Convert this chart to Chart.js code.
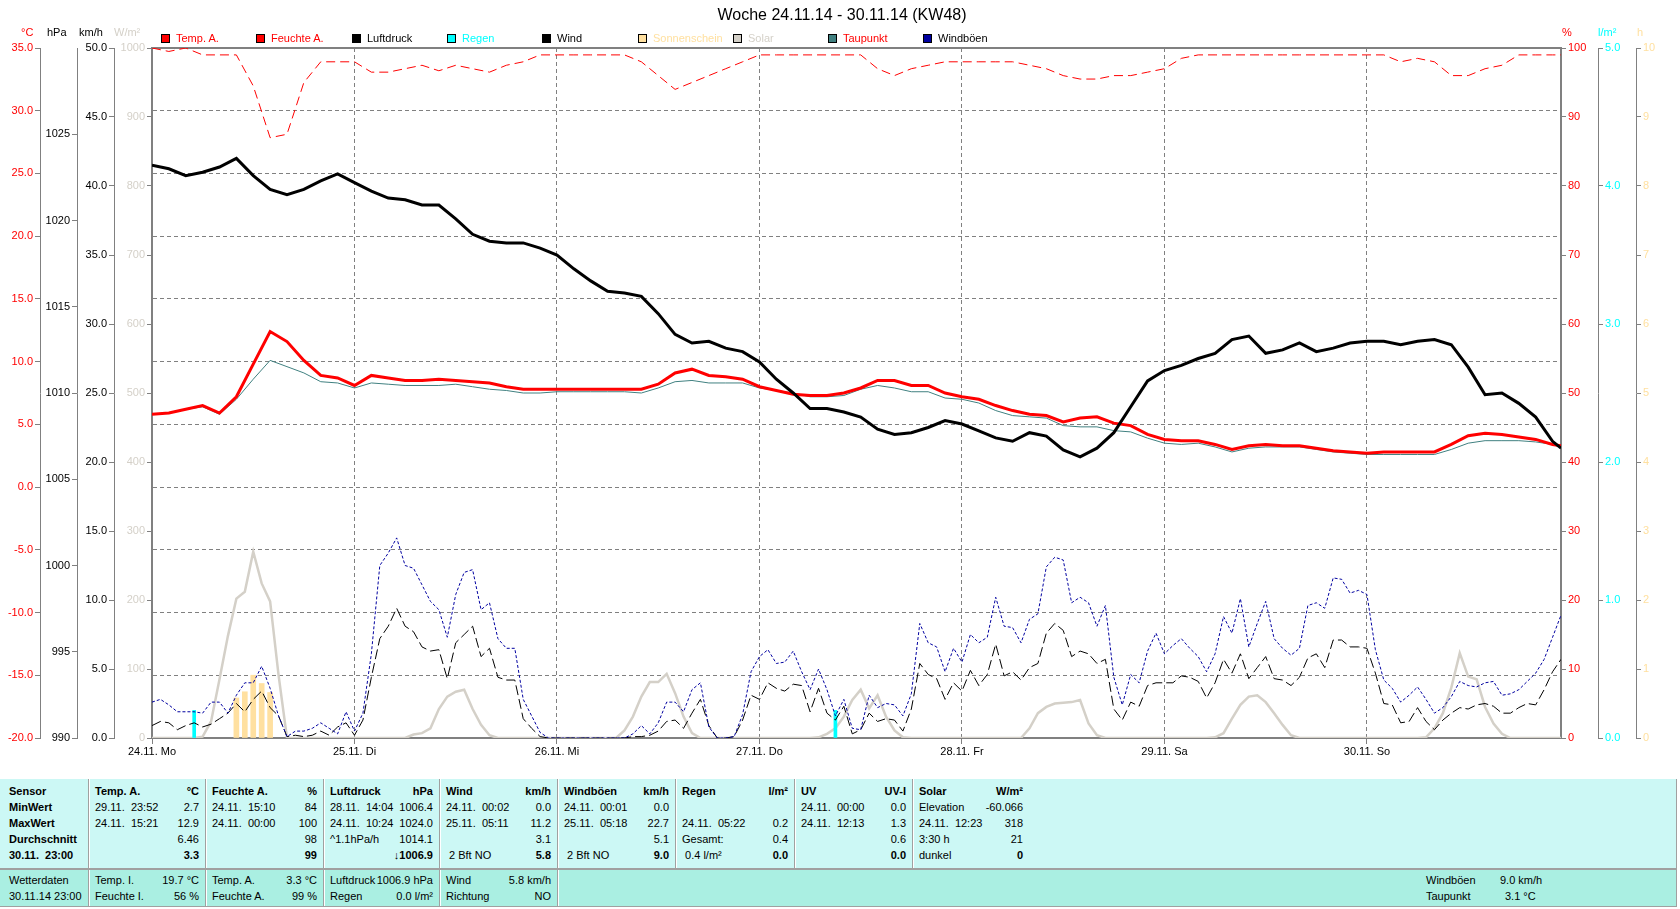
<!DOCTYPE html>
<html>
<head>
<meta charset="utf-8">
<script src="https://cdn.jsdelivr.net/npm/chart.js@4.4.1/dist/chart.umd.min.js"></script>
<style>
  body { margin: 0; background: #fff; font-family: "Liberation Sans", Arial, sans-serif; font-size: 11px; }
  #page { position: relative; width: 1680px; height: 909px; overflow: hidden; }
  #chart { position: absolute; left: 0; top: 0; }
  .abs { position: absolute; white-space: pre; }
  .lg { position: absolute; top: 32px; height: 12px; line-height: 12px; white-space: pre; }
  .lg .box { display: inline-block; width: 7px; height: 7px; border: 1px solid #000; margin-right: 6px; vertical-align: -1px; }
  .block { position: absolute; left: 0; width: 1676px; border-right: 1px solid #a0a0a0; }
  #upper { top: 779px; height: 89px; background: #ccf8f5; }
  #lower { top: 868px; height: 36px; background: #aaefe2; border-top: 2px solid #a0a0a0; border-bottom: 1px solid #a0a0a0; }
  .col { position: absolute; top: 0; bottom: 0; }
  .row { position: absolute; left: 6px; right: 7px; height: 16px; line-height: 16px; display: flex; justify-content: space-between; white-space: pre; }
  .sep { position: absolute; top: 0; bottom: 0; width: 1px; background: #a0a0a0; box-shadow: 1px 0 0 #fff; }
  .b { font-weight: bold; }
</style>
</head>
<body>
<div id="page">
  <canvas id="chart" width="1680" height="770"></canvas>
  <div class="abs" style="left:0;width:1684px;top:6px;text-align:center;font-size:16px;">Woche 24.11.14 - 30.11.14 (KW48)</div>
  <div id="legend"></div>
  <div id="units"></div>
  <div id="upper" class="block"></div>
  <div id="lower" class="block"></div>
</div>
<script>
// x positions: hours since 24.11. 00:00
const dayLabels = ['24.11. Mo', '25.11. Di', '26.11. Mi', '27.11. Do', '28.11. Fr', '29.11. Sa', '30.11. So'];
const dayTicks = [0, 24, 48, 72, 96, 120, 144];

// two-hourly readings (0,2,...,166 and 167)
const hours2 = [];
for (let h = 0; h <= 166; h += 2) hours2.push(h);
hours2.push(167);
// hourly readings 0..167
const hours1 = [];
for (let h = 0; h <= 167; h++) hours1.push(h);

const tempA = [5.8,5.9,6.2,6.5,5.9,7.2,9.8,12.4,11.6,10.1,8.9,8.7,
  8.1,8.9,8.7,8.5,8.5,8.6,8.5,8.4,8.3,8.0,7.8,7.8,
  7.8,7.8,7.8,7.8,7.8,7.8,8.2,9.1,9.4,8.9,8.8,8.6,
  8.0,7.7,7.4,7.3,7.3,7.5,7.9,8.5,8.5,8.1,8.1,7.5,
  7.2,7.0,6.5,6.1,5.8,5.7,5.2,5.5,5.6,5.1,4.9,4.2,
  3.8,3.7,3.7,3.4,3.0,3.3,3.4,3.3,3.3,3.1,2.9,2.8,
  2.7,2.8,2.8,2.8,2.8,3.4,4.1,4.3,4.2,4.0,3.8,3.4,3.3];

const dewPoint = [5.8,5.9,6.2,6.4,5.8,7.0,8.6,10.1,9.6,9.1,8.4,8.3,
  7.9,8.3,8.2,8.1,8.1,8.1,8.2,8.0,7.8,7.7,7.5,7.5,
  7.6,7.6,7.6,7.6,7.6,7.5,7.9,8.4,8.5,8.3,8.3,8.3,
  7.9,7.7,7.5,7.2,7.2,7.3,7.8,8.1,7.9,7.6,7.6,7.1,
  7.0,6.7,6.1,5.7,5.6,5.5,4.9,4.8,4.8,4.5,4.4,3.9,
  3.5,3.4,3.5,3.2,2.8,3.1,3.2,3.2,3.2,3.0,2.8,2.7,
  2.6,2.6,2.6,2.6,2.6,3.0,3.5,3.7,3.7,3.7,3.6,3.4,3.2];

const humidity = [100,99.5,100,99,99,99,94.5,87,87.5,95,98,98,
  98,96.5,96.5,97,97.5,96.7,97.5,97,96.5,97.5,98,99,
  99,99,99,99,99,98,96,94,95,96,97,98,
  99,99,99,99,99,99,99,97,96,97,97.5,98,
  98,98,98,98,97.5,97,96,95.5,95.5,96,96,96.5,
  97,98.5,99,99,99,99,99,99,99,99,99,99,
  99,99,98,98.5,98,96,96,97,97.5,99,99,99,99];

const pressure = [1023.2,1023.0,1022.6,1022.8,1023.1,1023.6,1022.6,1021.8,1021.5,1021.8,1022.3,1022.7,
  1022.2,1021.7,1021.3,1021.2,1020.9,1020.9,1020.1,1019.2,1018.8,1018.7,1018.7,1018.4,
  1018.0,1017.2,1016.5,1015.9,1015.8,1015.6,1014.6,1013.4,1012.9,1013.0,1012.6,1012.4,
  1011.8,1010.8,1010.0,1009.1,1009.1,1008.9,1008.6,1007.9,1007.6,1007.7,1008.0,1008.4,
  1008.2,1007.8,1007.4,1007.2,1007.7,1007.5,1006.7,1006.3,1006.8,1007.7,1009.2,1010.7,
  1011.3,1011.6,1012.0,1012.3,1013.1,1013.3,1012.3,1012.5,1012.9,1012.4,1012.6,1012.9,
  1013.0,1013.0,1012.8,1013.0,1013.1,1012.8,1011.5,1009.9,1010.0,1009.4,1008.6,1007.2,1006.8];

const wind = [0.9,1.2,1.1,0.6,0.9,1.1,0.8,1.0,1.4,1.8,2.5,1.9,
  2.8,3.4,2.2,1.6,0.1,0.2,0.1,0.2,0.5,0.2,0.8,1.1,
  0.2,1.3,4.4,7.2,8.1,9.4,8.1,7.7,6.6,6.3,6.4,4.3,
  6.9,7.5,8.1,5.9,6.5,4.4,4.2,4.2,1.4,0.7,0.1,0.0,
  0,0,0,0,0,0,0,0,0,0.1,0.1,0.2,
  0.5,1.2,1.3,0.7,1.8,2.8,0.9,0,0,0.1,1.3,3.1,
  2.8,4.0,3.6,3.4,3.9,3.8,1.9,3.6,1.8,1.3,2.3,0.3,
  0.6,1.8,1.2,1.4,1.3,0.5,2.1,5.4,4.6,4.3,2.8,4.0,
  3.4,4.9,3.8,4.6,6.8,4.5,4.8,4.2,5.1,5.4,7.6,8.3,
  7.8,5.9,6.3,6.1,5.4,5.7,2.1,1.3,2.6,2.3,3.8,4.0,
  4.0,4.0,4.5,4.4,4.1,2.9,4.0,5.7,4.7,6.1,4.3,5.1,
  5.9,4.3,4.2,3.8,4.4,5.8,6.1,5.1,7.1,7.1,6.6,6.6,
  6.5,4.7,2.5,2.4,1.1,1.2,2.2,1.2,0.6,1.3,1.8,2.2,
  2.1,2.4,2.5,2.3,1.8,1.8,2.2,2.5,2.4,3.5,4.8,5.7];

const gusts = [2.6,2.8,2.4,1.9,1.9,1.9,1.8,2.6,2.6,1.8,3.1,4.0,
  4.0,5.2,3.6,1.6,0.1,0.5,0.5,0.7,1.1,0.7,0.3,1.9,
  0.5,1.8,6.1,12.5,13.4,14.5,12.5,12.3,11.1,9.9,9.3,7.3,
  10.4,12.0,12.2,9.3,9.8,7.2,6.5,6.5,2.8,1.6,0.4,0.0,
  0,0,0,0,0,0,0,0,0,0.3,0.9,0.3,
  1.1,2.6,2.6,1.9,3.5,4.0,0.8,0,0,0.1,1.7,4.8,
  5.9,6.4,5.4,5.5,6.3,4.8,3.5,5.0,3.5,1.6,2.8,0.7,
  0.6,3.1,2.2,2.5,2.4,1.6,3.2,8.3,6.9,6.6,4.8,6.5,
  5.5,7.5,6.9,7.3,10.2,8.1,8.0,6.9,8.6,9.0,12.4,13.1,
  12.9,9.8,10.2,9.8,8.1,9.6,4.4,2.4,4.6,4.0,6.3,7.6,
  6.1,6.7,7.2,6.5,5.9,4.8,6.1,8.8,7.6,10.1,6.6,8.3,
  9.9,7.2,6.5,6.0,6.5,9.6,9.8,9.4,11.6,11.5,10.5,10.7,
  10.4,6.4,4.2,3.6,2.6,3.1,3.7,2.8,1.8,2.2,3.0,4.1,
  3.8,3.7,4.0,4.1,3.1,3.2,3.5,4.1,4.7,5.7,7.3,8.9];

const solar = [0,0,0,0,0,0,2,24,85,148,202,212,
  270,224,198,91,0,0,0,0,0,0,0,0,
  0,0,0,0,0,0,0,5,7,14,42,60,
  67,70,42,19,4,0,0,0,0,0,0,0,
  0,0,0,0,0,0,0,0,11,31,60,81,
  81,93,65,31,7,0,0,0,0,0,0,0,
  0,0,0,0,0,0,0,1,6,14,31,55,
  70,43,62,31,11,1,0,0,0,0,0,0,
  0,0,0,0,0,0,0,0,14,36,45,50,
  51,52,55,21,4,0,0,0,0,0,0,0,
  0,0,0,0,0,0,1,7,28,48,60,62,
  52,36,19,4,0,0,0,0,0,0,0,0,
  0,0,0,0,0,0,0,1,14,36,73,123,
  89,85,45,21,6,0,0,0,0,0,0,0];

const rainHours = [5, 81];
const rainValues = [0.2, 0.2];
const sunHours = [10, 11, 12, 13, 14];
const sunValues = [0.58, 0.67, 0.91, 0.79, 0.66];

const pts = (hs, vs) => vs.map((v, i) => ({ x: hs[i], y: v }));

const GREY = '#808080';
const SOLAR = '#d4d0c8';
const SUN = '#ffe0a0';

Chart.defaults.font.family = '"Liberation Sans", Arial, sans-serif';
Chart.defaults.font.size = 11;
Chart.defaults.color = '#000';

function sideAxis(position, weight, width, min, max, step, color, digits, more) {
  const ax = {
    type: 'linear', position, weight, min, max,
    afterFit: s => { s.width = width; },
    ticks: { stepSize: step, color, padding: 2, maxTicksLimit: 20, autoSkip: false,
             callback: v => v.toFixed(digits) },
    grid: { drawOnChartArea: false, tickLength: 5, tickColor: GREY, color: GREY },
    border: { color: GREY, width: 1 }
  };
  return Object.assign(ax, more || {});
}

const framePlugin = {
  id: 'frame',
  beforeDatasetsDraw(chart) {
    const { ctx, chartArea: a } = chart;
    ctx.save();
    ctx.strokeStyle = GREY;
    ctx.lineWidth = 2;
    ctx.strokeRect(a.left, a.top, a.right - a.left, a.bottom - a.top);
    ctx.restore();
  }
};

const line = (label, data, yAxisID, color, width, dash, order) => ({
  type: 'line', label, data, yAxisID, xAxisID: 'x', borderColor: color, backgroundColor: color,
  borderWidth: width, borderDash: dash, pointRadius: 0, tension: 0, fill: false, order
});

new Chart(document.getElementById('chart'), {
  type: 'line',
  data: {
    datasets: [
      line('Luftdruck', pts(hours2, pressure), 'yP', '#000000', 3, [], 1),
      line('Temp. A.', pts(hours2, tempA), 'yT', '#ff0000', 3, [], 2),
      line('Taupunkt', pts(hours2, dewPoint), 'yT', '#408080', 1, [], 3),
      line('Feuchte A.', pts(hours2, humidity), 'yH', '#ff0000', 1, [9, 5], 4),
      line('Windböen', pts(hours1, gusts), 'yW', '#0000a0', 1, [3, 2], 5),
      line('Wind', pts(hours1, wind), 'yW', '#000000', 1, [10, 4], 6),
      { type: 'bar', label: 'Regen', data: pts(rainHours, rainValues), yAxisID: 'yR', xAxisID: 'x',
        backgroundColor: '#00ffff', barThickness: 3, grouped: false, order: 7 },
      { type: 'bar', label: 'Sonnenschein', data: pts(sunHours, sunValues), yAxisID: 'yS', xAxisID: 'x',
        backgroundColor: SUN, barThickness: 5, grouped: false, order: 8 },
      line('Solar', pts(hours1, solar), 'ySol', SOLAR, 2.5, [], 9)
    ]
  },
  options: {
    responsive: false,
    animation: false,
    events: [],
    devicePixelRatio: 1,
    layout: { padding: { top: 48, left: 0, right: 0, bottom: 0 } },
    plugins: { legend: { display: false }, tooltip: { enabled: false }, title: { display: false } },
    scales: {
      x: {
        type: 'linear', position: 'bottom', min: 0, max: 167, offset: false,
        afterFit: s => { s.height = 32; },
        afterBuildTicks: s => { s.ticks = dayTicks.map(v => ({ value: v })); },
        ticks: { color: '#000', padding: 1, maxRotation: 0, autoSkip: false,
                 callback: (v, i) => dayLabels[i] },
        grid: { offset: false, color: GREY, tickLength: 6, tickColor: GREY },
        border: { display: false, dash: [4, 3] }
      },
      yT: sideAxis('left', 3, 40, -20, 35, 5, '#ff0000', 1, {
        grid: { drawOnChartArea: true, tickLength: 5, tickColor: GREY, color: GREY },
        border: { color: GREY, width: 1, dash: [4, 3] }
      }),
      yP: sideAxis('left', 2, 37, 990, 1030, 5, '#000000', 0, {
        afterBuildTicks: s => { s.ticks = s.ticks.filter(t => t.value < 1030); }
      }),
      yW: sideAxis('left', 1, 37, 0, 50, 5, '#000000', 1),
      ySol: sideAxis('left', 0, 38, 0, 1000, 100, SOLAR, 0),
      yH: sideAxis('right', 0, 37, 0, 100, 10, '#ff0000', 0),
      yR: sideAxis('right', 1, 38, 0, 5, 1, '#00ffff', 1),
      yS: sideAxis('right', 2, 44, 0, 10, 1, SUN, 0)
    }
  },
  plugins: [framePlugin]
});

// legend and unit captions
const legendNames = ['Temp. A.', 'Feuchte A.', 'Luftdruck', 'Regen', 'Wind', 'Sonnenschein', 'Solar', 'Taupunkt', 'Windböen'];
const legendBox = ['#ff0000', '#ff0000', '#000000', '#00ffff', '#000000', SUN, SOLAR, '#408080', '#0000a0'];
const legendText = ['#ff0000', '#ff0000', '#000000', '#00ffff', '#000000', SUN, SOLAR, '#ff0000', '#000000'];
document.getElementById('legend').innerHTML = legendNames.map((n, i) =>
  `<div class="lg" style="left:${Math.round(161 + i * 95.3)}px"><span class="box" style="background:${legendBox[i]}"></span><span style="color:${legendText[i]}">${n}</span></div>`
).join('');

const unitLabels = [['°C', 21, '#ff0000'], ['hPa', 47, '#000'], ['km/h', 79, '#000'], ['W/m²', 114, SOLAR],
                    ['%', 1562, '#ff0000'], ['l/m²', 1598, '#00ffff'], ['h', 1637, SUN]];
document.getElementById('units').innerHTML = unitLabels.map(u =>
  `<div class="abs" style="left:${u[1]}px;top:26px;color:${u[2]}">${u[0]}</div>`).join('');

// data table below the chart
const upperCols = [
  { x: 0, w: 89, all: true, rows: [['Sensor', ''], ['MinWert', ''], ['MaxWert', ''], ['Durchschnitt', ''], ['30.11.  23:00', '']] },
  { x: 89, w: 117, rows: [['Temp. A.', '°C'], ['29.11.  23:52', '2.7'], ['24.11.  15:21', '12.9'], ['', '6.46'], ['', '3.3']] },
  { x: 206, w: 118, rows: [['Feuchte A.', '%'], ['24.11.  15:10', '84'], ['24.11.  00:00', '100'], ['', '98'], ['', '99']] },
  { x: 324, w: 116, rows: [['Luftdruck', 'hPa'], ['28.11.  14:04', '1006.4'], ['24.11.  10:24', '1024.0'], ['^1.1hPa/h', '1014.1'], ['', '↓1006.9']] },
  { x: 440, w: 118, rows: [['Wind', 'km/h'], ['24.11.  00:02', '0.0'], ['25.11.  05:11', '11.2'], ['', '3.1'], [' 2 Bft NO', '5.8']] },
  { x: 558, w: 118, rows: [['Windböen', 'km/h'], ['24.11.  00:01', '0.0'], ['25.11.  05:18', '22.7'], ['', '5.1'], [' 2 Bft NO', '9.0']] },
  { x: 676, w: 119, rows: [['Regen', 'l/m²'], ['', ''], ['24.11.  05:22', '0.2'], ['Gesamt:', '0.4'], [' 0.4 l/m²', '0.0']] },
  { x: 795, w: 118, rows: [['UV', 'UV-I'], ['24.11.  00:00', '0.0'], ['24.11.  12:13', '1.3'], ['', '0.6'], ['', '0.0']] },
  { x: 913, w: 117, last: true, rows: [['Solar', 'W/m²'], ['Elevation', '-60.066'], ['24.11.  12:23', '318'], ['3:30 h', '21'], ['dunkel', '0']] }
];
const lowerCols = [
  { x: 0, w: 89, rows: [['Wetterdaten', ''], ['30.11.14 23:00', '']] },
  { x: 89, w: 117, rows: [['Temp. I.', '19.7 °C'], ['Feuchte I.', '56 %']] },
  { x: 206, w: 118, rows: [['Temp. A.', '3.3 °C'], ['Feuchte A.', '99 %']] },
  { x: 324, w: 116, rows: [['Luftdruck', '1006.9 hPa'], ['Regen', '0.0 l/m²']] },
  { x: 440, w: 118, rows: [['Wind', '5.8 km/h'], ['Richtung', 'NO']] }
];

function buildBlock(el, cols, rowTop, boldFn) {
  let html = '';
  cols.forEach((c, ci) => {
    html += `<div class="col" style="left:${c.x}px;width:${c.w}px">`;
    c.rows.forEach((r, ri) => {
      const bl = boldFn(c, ri, 0) ? ' b' : '';
      const br = boldFn(c, ri, 1) ? ' b' : '';
      const pad = ci === 0 ? 'left:9px;' : '';
      html += `<div class="row" style="top:${rowTop + ri * 16}px;${pad}"><span class="${bl}">${r[0]}</span><span class="${br}">${r[1]}</span></div>`;
    });
    html += '</div>';
    if (!c.last) html += `<div class="sep" style="left:${c.x + c.w - 1}px"></div>`;
  });
  el.innerHTML += html;
}
buildBlock(document.getElementById('upper'), upperCols, 4,
  (c, ri, side) => c.all || ri === 0 || (ri === 4 && side === 1));
buildBlock(document.getElementById('lower'), lowerCols, 2, () => false);
document.getElementById('lower').innerHTML +=
  '<div class="abs" style="left:1426px;top:2px;line-height:16px">Windböen</div>' +
  '<div class="abs" style="left:1500px;top:2px;line-height:16px">9.0 km/h</div>' +
  '<div class="abs" style="left:1426px;top:18px;line-height:16px">Taupunkt</div>' +
  '<div class="abs" style="left:1505px;top:18px;line-height:16px">3.1 °C</div>';
</script>
</body>
</html>
